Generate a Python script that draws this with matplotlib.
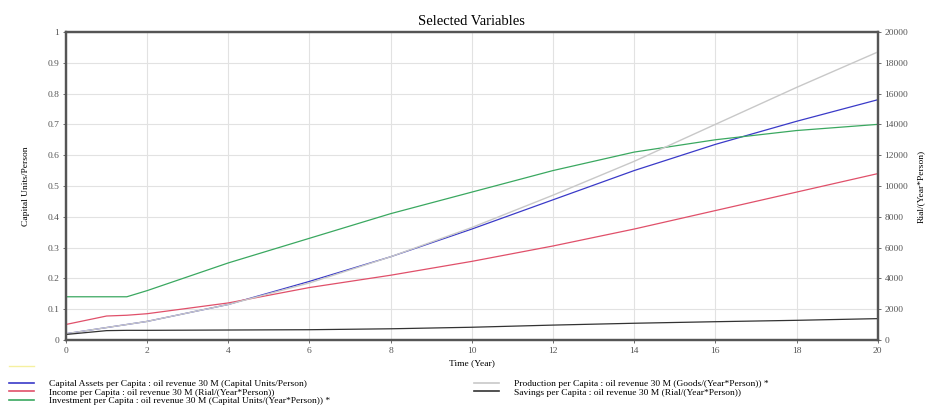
import matplotlib.pyplot as plt
from matplotlib.lines import Line2D

plt.rcParams['font.family'] = ['Liberation Serif', 'DejaVu Serif']

years = [0, 1, 1.5, 2, 4, 6, 8, 10, 12, 14, 16, 18, 20]

# left axis (Capital Units/Person, Capital Units/(Year*Person))
capital_assets = [0.02, 0.04, 0.05, 0.06, 0.115, 0.19, 0.27, 0.36, 0.455, 0.55, 0.635, 0.71, 0.78]
investment = [0.14, 0.14, 0.14, 0.16, 0.25, 0.33, 0.41, 0.48, 0.55, 0.61, 0.65, 0.68, 0.70]

# right axis (Rial/(Year*Person))
income = [1000, 1550, 1600, 1700, 2400, 3400, 4200, 5100, 6100, 7200, 8400, 9600, 10800]
production = [400, 800, 1000, 1200, 2300, 3700, 5400, 7300, 9400, 11600, 14000, 16400, 18700]
savings = [350, 600, 620, 620, 640, 660, 720, 820, 960, 1080, 1180, 1270, 1380]

labels = [
    'Capital Assets per Capita : oil revenue 30 M (Capital Units/Person)',
    'Income per Capita : oil revenue 30 M (Rial/(Year*Person))',
    'Investment per Capita : oil revenue 30 M (Capital Units/(Year*Person)) *',
    'Production per Capita : oil revenue 30 M (Goods/(Year*Person)) *',
    'Savings per Capita : oil revenue 30 M (Rial/(Year*Person))',
]
colors = ['#3a3ac8', '#e0506a', '#3aa860', '#c8c8c8', '#333333']

fig = plt.figure(figsize=(9.33, 4.16), dpi=100)
ax = fig.add_axes([0.0707, 0.183, 0.870, 0.740])
ax2 = ax.twinx()

ax.plot(years, capital_assets, color=colors[0], lw=0.9)
ax2.plot(years, income, color=colors[1], lw=0.9)
ax.plot(years, investment, color=colors[2], lw=0.9)
ax2.plot(years, production, color=colors[3], lw=1.0)
ax2.plot(years, savings, color=colors[4], lw=0.9)

ax.set_xlim(0, 20)
ax.set_ylim(0, 1)
ax2.set_ylim(0, 20000)
ax.set_xticks(range(0, 21, 2))
ax.set_yticks([i / 10 for i in range(11)])
ax.set_yticklabels(['0', '0.1', '0.2', '0.3', '0.4', '0.5', '0.6', '0.7', '0.8', '0.9', '1'])
ax2.set_yticks(range(0, 20001, 2000))
ax.grid(True, color='#e2e2e2', lw=0.8)
ax.set_axisbelow(True)

for a in (ax, ax2):
    a.tick_params(labelsize=6.8, length=2, width=0.6, colors='#555555', pad=3)
    for s in a.spines.values():
        s.set_color('#555555')
        s.set_linewidth(1.6)

ax.set_title('Selected Variables', fontsize=10.5, pad=5)
ax.set_xlabel('Time (Year)', fontsize=6.8, labelpad=3)
ax.set_ylabel('Capital Units/Person', fontsize=6.8, labelpad=12)
ax2.set_ylabel('Rial/(Year*Person)', fontsize=6.8, labelpad=6)

leg_kw = dict(frameon=False, fontsize=6.8, handlelength=2.6, handletextpad=1.6,
              labelspacing=0.0, borderaxespad=0, borderpad=0)
fig.legend([Line2D([], [], color='#f5f0a0', lw=1)], [''], loc='upper left',
           bbox_to_anchor=(0.010, 0.129), **leg_kw)
h_left = [Line2D([], [], color=c, lw=1.2) for c in colors[:3]]
fig.legend(h_left, labels[:3], loc='upper left', bbox_to_anchor=(0.010, 0.088), **leg_kw)
h_right = [Line2D([], [], color=c, lw=1.2) for c in colors[3:]]
fig.legend(h_right, labels[3:], loc='upper left', bbox_to_anchor=(0.508, 0.088), **leg_kw)

fig.savefig('out.png', dpi=100)
